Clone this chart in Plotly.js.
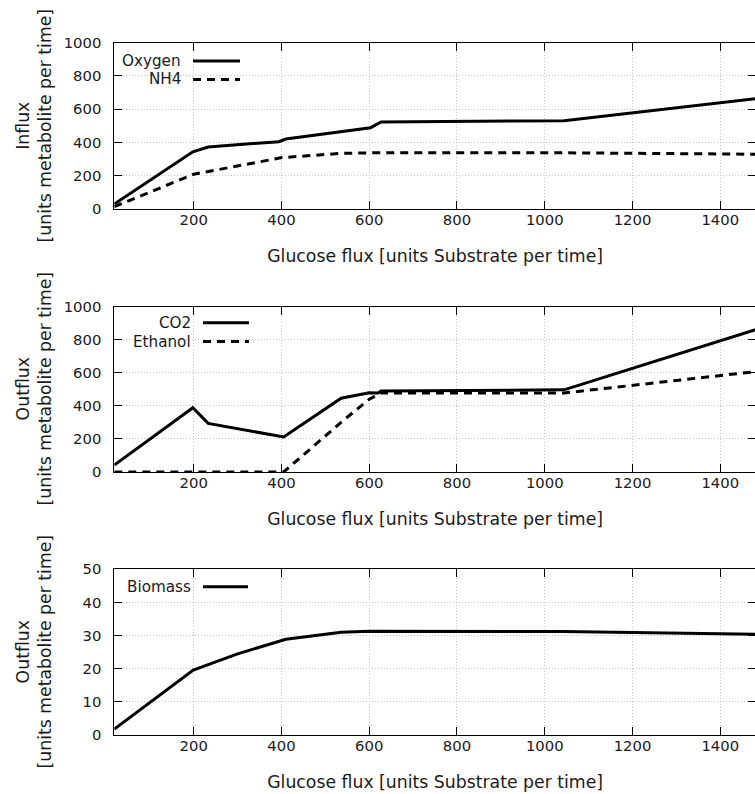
<!DOCTYPE html>
<html><head><meta charset="utf-8">
<script src="https://cdn.plot.ly/plotly-3.0.1.min.js"></script>
<style>html,body{margin:0;padding:0;overflow:hidden;background:#fff}#chart{width:760px;height:794px}</style>
</head><body><div id="chart"></div>
<script>
// ---- data ----
const xTitle = 'Glucose flux [units Substrate per time]';
const oxygenX = [19, 198, 233, 394, 410, 603, 627, 1044, 1500];
const oxygenY = [30, 344, 373, 405, 421, 489, 523, 531, 669];
const nh4X = [19, 200, 401, 540, 620, 1044, 1500];
const nh4Y = [14, 209, 309, 335, 338, 338, 329];
const co2X = [19, 198, 233, 405, 536, 600, 620, 627, 1044, 1500];
const co2Y = [42, 389, 294, 212, 446, 480, 478, 490, 497, 877];
const ethanolX = [19, 405, 540, 600, 627, 1044, 1500];
const ethanolY = [0, 0, 310, 440, 478, 478, 613];
const biomassX = [19, 199, 300, 410, 536, 600, 1040, 1500];
const biomassY = [1.8, 19.6, 24.5, 28.9, 31.0, 31.3, 31.2, 30.4];

const W = 760, H = 794;
const FONT = 'DejaVu Sans';
const px = v => v / W, py = v => 1 - v / H;

const solid = {color: '#000', width: 3};
const dashed = {color: '#000', width: 3, dash: '8px,6px'};

const traces = [
  {x: oxygenX, y: oxygenY, name: 'Oxygen', xaxis: 'x', yaxis: 'y', mode: 'lines', line: solid},
  {x: nh4X, y: nh4Y, name: 'NH4', xaxis: 'x', yaxis: 'y', mode: 'lines', line: dashed},
  {x: co2X, y: co2Y, name: 'CO2', xaxis: 'x2', yaxis: 'y2', mode: 'lines', line: solid},
  {x: ethanolX, y: ethanolY, name: 'Ethanol', xaxis: 'x2', yaxis: 'y2', mode: 'lines', line: dashed},
  {x: biomassX, y: biomassY, name: 'Biomass', xaxis: 'x3', yaxis: 'y3', mode: 'lines', line: solid}
];

const xBase = (anchor) => ({
  anchor, domain: [px(114.3), px(756)], range: [19, 1481.5],
  tick0: 0, dtick: 200, ticks: 'inside', ticklen: 8, tickcolor: '#000', tickwidth: 1,
  showline: true, mirror: 'ticks', linecolor: '#000', linewidth: 1,
  showgrid: true, gridcolor: '#c4c4c4', griddash: '1px,2px', gridwidth: 1, zeroline: false,
  tickfont: {family: FONT, size: 14.8, color: '#1a1a1a'}, ticklabelstandoff: -3,
  title: {text: xTitle, font: {family: FONT, size: 17.3, color: '#1a1a1a'}, standoff: 23}
});
const yBase = (anchor, dom, range, dtick) => ({
  anchor, domain: dom, range, tick0: 0, dtick,
  ticks: 'inside', ticklen: 8, tickcolor: '#000', tickwidth: 1,
  showline: true, mirror: 'ticks', linecolor: '#000', linewidth: 1,
  showgrid: true, gridcolor: '#c4c4c4', griddash: '1px,2px', gridwidth: 1, zeroline: false,
  tickfont: {family: FONT, size: 14.8, color: '#1a1a1a'}, ticklabelstandoff: 9
});

const legendItems = [
  {name: 'Oxygen', yPix: 61, textRight: 183, x0: 193, x1: 240, line: solid},
  {name: 'NH4', yPix: 79.5, textRight: 183, x0: 193, x1: 240, line: dashed},
  {name: 'CO2', yPix: 322.7, textRight: 193, x0: 203, x1: 249, line: solid},
  {name: 'Ethanol', yPix: 341.5, textRight: 193, x0: 203, x1: 249, line: dashed},
  {name: 'Biomass', yPix: 586.7, textRight: 193, x0: 203, x1: 248, line: solid}
];

const annotations = legendItems.map(it => ({
  xref: 'paper', yref: 'paper', x: px(it.textRight), y: py(it.yPix),
  xanchor: 'right', yanchor: 'middle', showarrow: false, text: it.name,
  font: {family: FONT, size: 15.2, color: '#1a1a1a'}
}));
const shapes = legendItems.map(it => ({
  type: 'line', xref: 'paper', yref: 'paper', x0: px(it.x0), x1: px(it.x1),
  y0: py(it.yPix), y1: py(it.yPix), line: it.line
}));

const yTitles = [
  {text: 'Influx<br>[units metabolite per time]', yPix: 126},
  {text: 'Outflux<br>[units metabolite per time]', yPix: 389},
  {text: 'Outflux<br>[units metabolite per time]', yPix: 652}
];
yTitles.forEach(t => annotations.push({
  xref: 'paper', yref: 'paper', x: px(33.5), y: py(t.yPix), xanchor: 'center', yanchor: 'middle',
  textangle: -90, showarrow: false, text: t.text, align: 'center',
  font: {family: FONT, size: 17.3, color: '#1a1a1a'}
}));

const layout = {
  width: W, height: H, margin: {l: 0, r: 0, t: 0, b: 0},
  paper_bgcolor: '#fff', plot_bgcolor: '#fff', showlegend: false,
  font: {family: FONT, color: '#1a1a1a'},
  xaxis: xBase('y'), xaxis2: xBase('y2'), xaxis3: xBase('y3'),
  yaxis: yBase('x', [py(209), py(42.7)], [0, 1000], 200),
  yaxis2: yBase('x2', [py(472), py(306.7)], [0, 1000], 200),
  yaxis3: yBase('x3', [py(735), py(569.3)], [0, 50], 10),
  annotations, shapes
};

Plotly.newPlot('chart', traces, layout, {displayModeBar: false, staticPlot: true});
</script></body></html>
